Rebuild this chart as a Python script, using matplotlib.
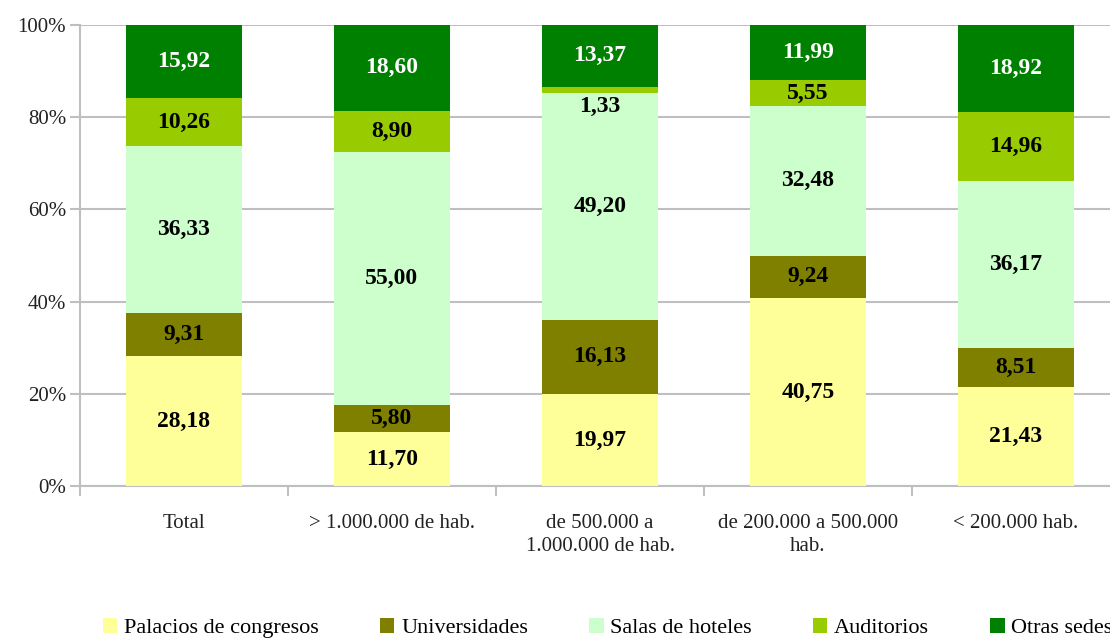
import matplotlib.pyplot as plt
import numpy as np

plt.rcParams['font.family'] = ['Liberation Serif', 'DejaVu Serif']

categories = ["Total", "> 1.000.000 de hab.", "de 500.000 a\n1.000.000 de hab.",
              "de 200.000 a 500.000\nhab.", "< 200.000 hab."]
series = ["Palacios de congresos", "Universidades", "Salas de hoteles", "Auditorios", "Otras sedes"]
palacios = [28.18, 11.70, 19.97, 40.75, 21.43]
universidades = [9.31, 5.80, 16.13, 9.24, 8.51]
hoteles = [36.33, 55.00, 49.20, 32.48, 36.17]
auditorios = [10.26, 8.90, 1.33, 5.55, 14.96]
otras = [15.92, 18.60, 13.37, 11.99, 18.92]

colors = ["#FFFF99", "#808000", "#CCFFCC", "#99CC00", "#008000"]
text_colors = ["black", "black", "black", "black", "white"]

fig = plt.figure(figsize=(11.1, 6.39), dpi=100)
ax = fig.add_axes([80/1110, 153/639, 1040/1110, 461/639])

x = np.arange(len(categories))
bottom = np.zeros(len(categories))
for name, vals, col, tcol in zip(series, [palacios, universidades, hoteles, auditorios, otras],
                                 colors, text_colors):
    vals = np.array(vals)
    ax.bar(x, vals, 0.56, bottom=bottom, color=col, label=name, zorder=3)
    for xi, b, v in zip(x, bottom, vals):
        yc = b + v / 2
        if v < 3:
            yc = b - 3  # small segment: label sits just below
        ax.text(xi, yc, f"{v:.2f}".replace(".", ","), ha="center", va="center",
                fontsize=17, fontweight="bold", color=tcol, zorder=4)
    bottom += vals

ax.set_xlim(-0.5, 4.5)
ax.set_ylim(0, 100)
ax.set_yticks(np.arange(0, 101, 20))
ax.set_yticklabels([f"{v}%" for v in range(0, 101, 20)], fontsize=15, color="#222222")
ax.set_xticks(np.arange(-0.5, 4.6, 1), minor=False)
ax.set_xticklabels([])
ax.set_xticks(x, minor=True)
ax.set_xticklabels(categories, minor=True, fontsize=15, color="#222222", linespacing=1.3)
ax.tick_params(axis="x", which="minor", length=0, pad=20)
ax.tick_params(axis="x", which="major", length=7, width=1.5, color="#BFBFBF")
ax.tick_params(axis="y", length=7, width=1.5, color="#BFBFBF", pad=3)
ax.grid(axis="y", color="#BFBFBF", linewidth=1.5, zorder=0)
for s in ["top", "right"]:
    ax.spines[s].set_visible(False)
for s in ["left", "bottom"]:
    ax.spines[s].set_color("#BFBFBF")
    ax.spines[s].set_linewidth(1.5)

fig.legend(loc="center left", bbox_to_anchor=(103/1110, 11/639), ncol=5, frameon=False,
           fontsize=16, handlelength=0.65, handleheight=0.65, handletextpad=0.3,
           columnspacing=2.75, borderpad=0, borderaxespad=0)

fig.savefig("out.png", dpi=100)
